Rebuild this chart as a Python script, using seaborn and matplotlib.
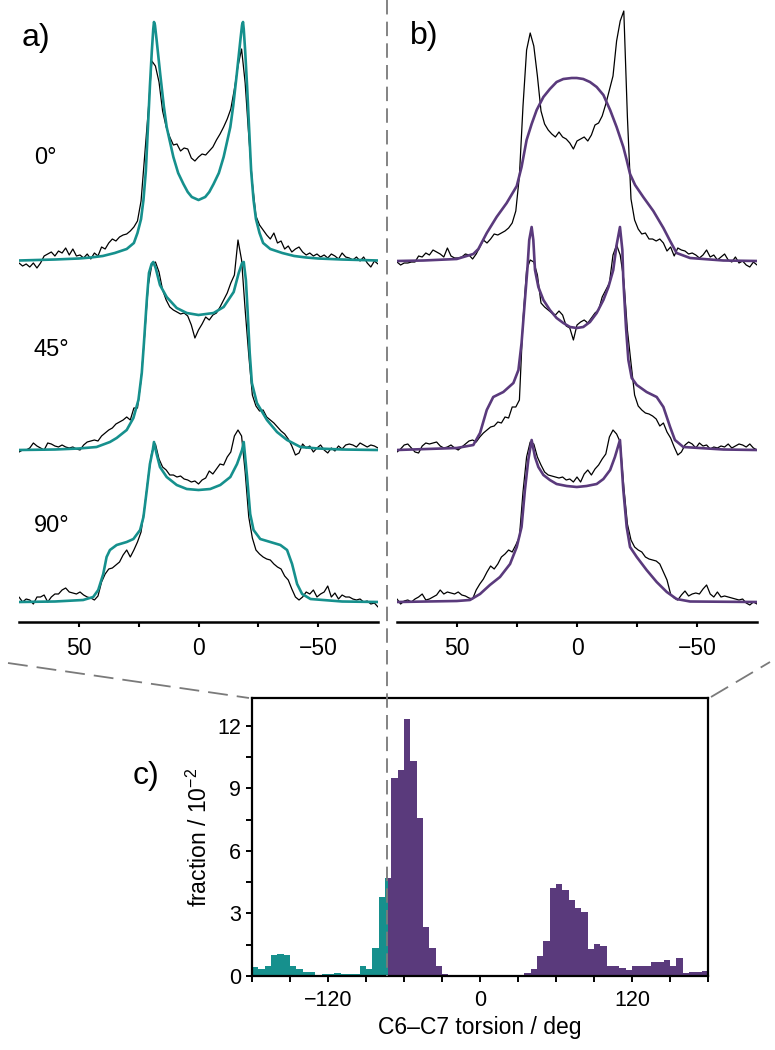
import numpy as np
import matplotlib
matplotlib.use("Agg")
import matplotlib.pyplot as plt
import seaborn as sns
from matplotlib.lines import Line2D
from matplotlib.ticker import MultipleLocator, FixedLocator

# ---------------- data: 2H NMR spectra (shift in kHz) ----------------
shift = [75.0, 73.5, 72.0, 70.5, 69.0, 67.5, 66.0, 64.5, 63.0, 61.5,
         60.0, 58.5, 57.0, 55.5, 54.0, 52.5, 51.0, 49.5, 48.0, 46.5,
         45.0, 43.5, 42.0, 40.5, 39.0, 37.5, 36.0, 34.5, 33.0, 31.5,
         30.0, 28.5, 27.0, 25.5, 24.0, 22.5, 21.0, 19.5, 18.0, 16.5,
         15.0, 13.5, 12.0, 10.5, 9.0, 7.5, 6.0, 4.5, 3.0, 1.5,
         0.0, -1.5, -3.0, -4.5, -6.0, -7.5, -9.0, -10.5, -12.0, -13.5,
         -15.0, -16.5, -18.0, -19.5, -21.0, -22.5, -24.0, -25.5, -27.0, -28.5,
         -30.0, -31.5, -33.0, -34.5, -36.0, -37.5, -39.0, -40.5, -42.0, -43.5,
         -45.0, -46.5, -48.0, -49.5, -51.0, -52.5, -54.0, -55.5, -57.0, -58.5,
         -60.0, -61.5, -63.0, -64.5, -66.0, -67.5, -69.0, -70.5, -72.0, -73.5,
         -75.0]

exp_a0 = [-2, -5, -3, -6, -2, -7, -2, 5, 7, 9,
          5, 10, 8, 13, 6, 12, 5, 6, 3, 7,
          2, 8, 5, 14, 12, 18, 22, 20, 24, 26,
          27, 30, 34, 40, 60, 105, 150, 200, 195, 179,
          150, 134, 124, 116, 117, 110, 113, 112, 103, 100,
          104, 107, 106, 110, 114, 121, 127, 134, 142, 152,
          172, 195, 212, 178, 125, 78, 45, 36, 31, 26,
          22, 28, 18, 20, 12, 15, 9, 12, 14, 9,
          6, 8, 5, 7, 4, 6, 3, 7, 5, 2,
          8, 4, 3, 1, 4, 0, 4, -2, -6, 0,
          -3]
exp_a45 = [-2, 0, 0, 2, 7, 4, 2, 0, 7, 6,
           4, 3, 5, 3, 2, 3, 1, 0, 5, 8,
           9, 10, 9, 14, 17, 20, 22, 26, 28, 30,
           33, 30, 42, 42, 70, 115, 165, 185, 188, 178,
           160, 150, 143, 140, 138, 136, 137, 134, 125, 112,
           120, 126, 133, 130, 135, 137, 143, 150, 157, 167,
           175, 210, 190, 140, 95, 55, 44, 39, 40, 33,
           30, 27, 23, 19, 16, 11, 4, -5, -3, 6,
           2, 4, -2, 2, 5, 0, -3, 2, -1, 4,
           1, 5, 6, 5, 3, 7, 5, 3, 5, 4,
           2]
exp_a90 = [5, 0, 3, 2, -2, 5, 5, 7, 0, 5,
           8, 8, 12, 14, 10, 9, 8, 10, 7, 5,
           4, 2, 6, 20, 28, 33, 34, 37, 40, 47,
           52, 45, 52, 60, 70, 95, 125, 150, 158, 143,
           135, 132, 127, 127, 125, 126, 123, 122, 120, 121,
           118, 122, 124, 131, 128, 133, 138, 137, 145, 150,
           166, 172, 166, 130, 85, 64, 52, 48, 45, 43,
           42, 38, 35, 33, 26, 22, 13, 5, 2, 5,
           10, 8, 12, 5, 8, 10, 16, 5, 9, 3,
           7, 5, 5, 3, 2, 3, 0, 1, -2, -1,
           -5]
exp_b0 = [-1, -4, -2, -2, -1, -1, 5, 4, 8, 6,
          11, 9, 7, 4, 13, 5, 3, 3, 4, 7,
          6, 2, 7, 14, 21, 18, 22, 27, 26, 28,
          30, 33, 38, 50, 85, 155, 211, 228, 215, 185,
          150, 137, 131, 127, 124, 129, 124, 122, 118, 112,
          120, 122, 124, 120, 126, 136, 138, 145, 157, 171,
          185, 220, 240, 250, 144, 62, 41, 32, 27, 28,
          22, 22, 20, 22, 18, 10, 14, 5, 13, 11,
          10, 7, 8, 6, 3, 6, 11, 4, 6, 1,
          4, 7, 1, -1, 4, -2, 0, -4, -6, -1,
          -4]
exp_b45 = [-2, 1, 5, 6, 2, -2, -3, 4, 7, 6,
           7, 8, 4, 2, 3, 5, 2, 0, 3, 6,
           9, 10, 8, 13, 17, 20, 23, 24, 28, 27,
           33, 32, 43, 43, 50, 130, 180, 190, 188, 175,
           147, 143, 140, 137, 135, 139, 135, 124, 122, 110,
           125, 128, 130, 127, 132, 137, 140, 153, 160, 167,
           195, 205, 195, 170, 120, 87, 55, 44, 40, 37,
           36, 34, 31, 24, 27, 18, 12, 3, -5, -2,
           5, 8, 6, 2, 7, 4, 5, 1, 3, 2,
           4, 3, 6, 2, 4, 6, 5, 3, 6, 2,
           0]
exp_b90 = [3, -2, 1, 2, 0, 3, 5, 8, 2, 3,
           5, 7, 12, 8, 10, 9, 8, 10, 7, 6,
           4, 3, 12, 18, 23, 30, 36, 33, 38, 45,
           48, 52, 50, 57, 65, 110, 145, 160, 158, 145,
           137, 130, 127, 126, 125, 124, 125, 122, 123, 120,
           125, 120, 128, 132, 127, 133, 137, 143, 148, 165,
           172, 168, 160, 115, 78, 62, 55, 52, 50, 45,
           43, 42, 41, 38, 30, 22, 8, 4, 2, 7,
           11, 6, 8, 9, 8, 13, 17, 8, 5, 10,
           5, 6, 5, 4, 3, 2, 3, -1, -3, 0,
           -2]

# simulated fits
fit_a0_x = [75, 60, 50, 45, 40, 35, 30, 27, 25.5, 24, 23, 22, 21.2, 20.3, 19.5, 18.9, 18.6, 18.2, 17.5, 16,
            14.5, 13.3, 12, 10.5, 8.5, 6.3, 4.5, 2.8, 0, -2.8, -4.5, -6.3, -8.5, -10.5, -12, -13.3, -14.5,
            -16, -17.5, -18.2, -18.6, -18.9, -19.5, -20.3, -21.2, -22, -23, -24, -25.5, -27, -30, -35, -40,
            -45, -50, -60, -75]
fit_a0_y = [0.5, 1.5, 2.5, 3.5, 5, 8, 12, 18, 28, 42, 61, 90, 130, 175, 210, 232, 239, 236, 221, 187,
            155, 134, 120, 104, 88, 77, 69, 64, 61, 64, 69, 77, 88, 104, 120, 134, 155,
            187, 221, 236, 239, 232, 210, 175, 130, 90, 61, 42, 28, 18, 12, 8, 5,
            3.5, 2.5, 1.5, 0.5]
fit_a45_x = [75, 60, 50, 42.6, 37, 34.2, 30, 27.2, 25.1, 23.7, 22.8, 21.6, 20.7, 19.6, 18.9, 17.9, 16.1,
             13.3, 9.1, 4.9, 0, -6.3, -10.5, -14.7, -16.8, -18.2, -18.9, -19.8, -20.5, -21.4, -22.3, -24.4,
             -28.6, -32.8, -37, -42.6, -50, -60, -75]
fit_a45_y = [0, 0.5, 1.5, 3, 8, 12, 20, 32, 50, 77, 107, 150, 177, 186, 188, 182, 165,
             153, 142, 137, 135, 137, 143, 158, 177, 187, 188, 170, 140, 97, 67, 47,
             30, 18, 10, 3, 1.5, 0.5, 0]
fit_a90_x = [75, 60, 48.2, 44, 41.9, 39.8, 38.4, 37, 34.2, 30, 27.2, 24.4, 23, 21.6, 20.3, 19.1, 18.6,
             17.5, 16.1, 13.3, 9.1, 4.9, 0, -4.9, -9.1, -13.3, -16.1, -18.2, -18.9, -20.3, -21.6, -23,
             -25.8, -30, -34.2, -37, -39.1, -41.2, -43.3, -46.8, -60, -75]
fit_a90_y = [0, 0.5, 2, 5, 12, 28, 45, 52, 57, 60, 63, 72, 85, 112, 138, 152, 160,
             148, 135, 125, 117, 113, 112, 113, 117, 125, 138, 152, 160, 125, 88, 72,
             63, 60, 57, 52, 38, 18, 8, 3, 0.5, 0]
fit_b0_x = [75, 64, 50.1, 43.2, 41.1, 37.6, 33.5, 29.3, 25.1, 23.1, 21, 18.9, 16.8, 14, 11.3, 8.5, 5.7,
            2.2, 0.1, -2.6, -5.4, -8.2, -11, -13.8, -16.5, -19.3, -20.7, -22.1, -24.2, -27.6, -31.8,
            -36, -38.8, -41.5, -47.1, -61, -75]
fit_b0_y = [0, 0.5, 2, 7, 12, 28, 44, 58, 75, 94, 121, 137, 151, 164, 172, 179, 182,
            183, 183, 182, 179, 174, 166, 151, 134, 114, 101, 87, 76, 64, 50,
            33, 20, 8, 3, 0.5, 0]
fit_b45_x = [75, 50.1, 43.2, 40.4, 37.6, 34.9, 30.7, 26.5, 24.4, 23.1, 21.7, 20.7, 19.9, 18.9, 18.2,
             17.5, 16.1, 14, 11.3, 8.5, 5.7, 2.9, 0.1, -2.6, -5.4, -8.2, -11, -13.1, -15.1, -16.5,
             -17.9, -18.9, -19.3, -20.4, -21.4, -22.8, -24.9, -29, -33.2, -36, -38.8, -40.8, -44.3,
             -61, -75]
fit_b45_y = [0, 2, 5, 17, 40, 53, 58, 67, 80, 107, 150, 180, 210, 223, 210,
             180, 163, 150, 140, 132, 127, 123, 122, 123, 128, 137, 150, 163, 180, 205,
             223, 200, 170, 123, 90, 72, 65, 58, 53, 43, 23, 10, 3,
             0.5, 0]
fit_b90_x = [75, 50.1, 44.6, 40.4, 36.3, 32.1, 27.9, 25.1, 23.1, 21.7, 20.3, 18.9, 17.5, 16.1, 14,
             11.3, 8.5, 4.3, 0.1, -4, -8.2, -11, -13.8, -15.8, -17.9, -19.3, -20.7, -22.1, -24.9,
             -29, -33.2, -37.4, -41.5, -47.1, -75]
fit_b90_y = [0, 1, 2, 8, 17, 25, 38, 55, 75, 112, 142, 162, 145, 135, 127,
             122, 118, 116, 115, 116, 118, 123, 132, 145, 162, 112, 75, 55, 45,
             32, 20, 10, 3, 0.5, 0]

angle_labels = ["0°", "45°", "90°"]

# ---------------- data: torsion histogram (fraction / 1e-2, 5° bins) ----------------
bin_left = [-180, -175, -170, -165, -160, -155, -150, -145, -140, -135, -130, -125,
            -120, -115, -110, -105, -100, -95, -90, -85, -80, -75, -70, -65,
            -60, -55, -50, -45, -40, -35, -30, -25, -20, -15, -10, -5,
            0, 5, 10, 15, 20, 25, 30, 35, 40, 45, 50, 55,
            60, 65, 70, 75, 80, 85, 90, 95, 100, 105, 110, 115,
            120, 125, 130, 135, 140, 145, 150, 155, 160, 165, 170, 175]
fraction = [0.43, 0.35, 0.50, 1.00, 1.07, 1.00, 0.46, 0.35, 0.19, 0.19, 0.03, 0.10,
            0.10, 0.14, 0.10, 0.08, 0.10, 0.50, 0.35, 1.34, 3.80, 4.70, 9.50, 9.90,
            12.30, 10.30, 7.60, 2.35, 1.36, 0.46, 0.08, 0, 0, 0, 0, 0,
            0, 0, 0, 0, 0, 0, 0, 0.14, 0.35, 0.96, 1.68, 4.24,
            4.40, 4.10, 3.66, 3.28, 3.07, 1.31, 1.52, 1.42, 0.46, 0.46, 0.40, 0.30,
            0.50, 0.46, 0.50, 0.67, 0.67, 0.78, 0.50, 0.86, 0.16, 0.19, 0.19, 0.24]
bin_width = 5
split_angle = -72.4   # torsion separating the two populations

TEAL = "#16908d"
PURPLE = "#5a3a7c"

# ---------------- figure ----------------
sns.set_theme(style="white")
plt.rcParams["font.family"] = ["Liberation Sans", "DejaVu Sans"]
plt.rcParams["mathtext.fontset"] = "custom"
plt.rcParams["mathtext.rm"] = "Liberation Sans"
plt.rcParams["mathtext.it"] = "Liberation Sans:italic"
plt.rcParams["text.color"] = "black"
plt.rcParams["axes.labelcolor"] = "black"
plt.rcParams["xtick.color"] = "black"
plt.rcParams["ytick.color"] = "black"

W, H = 775, 1050
fig = plt.figure(figsize=(W / 100, H / 100), dpi=100)


def fxp(px):
    return px / W


def fyp(py):
    return 1 - py / H


axA = fig.add_axes([fxp(19), fyp(622), (378 - 19) / W, 622 / H])
axB = fig.add_axes([fxp(397), fyp(622), (757 - 397) / W, 622 / H])
axC = fig.add_axes([fxp(252), fyp(976), (708 - 252) / W, (976 - 698) / H])

offsets = [361, 172, 20]

panels = [
    (axA, [exp_a0, exp_a45, exp_a90],
     [(fit_a0_x, fit_a0_y), (fit_a45_x, fit_a45_y), (fit_a90_x, fit_a90_y)], TEAL),
    (axB, [exp_b0, exp_b45, exp_b90],
     [(fit_b0_x, fit_b0_y), (fit_b45_x, fit_b45_y), (fit_b90_x, fit_b90_y)], PURPLE),
]

for ax, exps, fits, col in panels:
    for exp, (fxv, fyv), off in zip(exps, fits, offsets):
        n = min(len(shift), len(exp))
        sns.lineplot(x=np.array(shift[:n]), y=np.array(exp[:n], float) + off, ax=ax,
                     color="black", linewidth=0.9, estimator=None, sort=False)
        m = min(len(fxv), len(fyv))
        sns.lineplot(x=np.array(fxv[:m]), y=np.array(fyv[:m], float) + off, ax=ax,
                     color=col, linewidth=1.9, estimator=None, sort=False)
    ax.set_xlim(75, -75)
    ax.set_ylim(0, 622)
    ax.set_xlabel("")
    ax.set_ylabel("")
    for s in ["left", "right", "top"]:
        ax.spines[s].set_visible(False)
    ax.spines["bottom"].set_linewidth(1.8)
    ax.spines["bottom"].set_color("black")
    ax.set_yticks([])
    ax.xaxis.set_major_locator(FixedLocator([50, 0, -50]))
    ax.xaxis.set_minor_locator(FixedLocator([25, -25]))
    ax.tick_params(axis="x", which="both", direction="out", length=3.5, width=1.5,
                   colors="black", labelsize=16.5, pad=7, bottom=True)
    ax.patch.set_alpha(0)

# ---------------- histogram ----------------
teal_edges = [b for b in bin_left if b + bin_width <= -70] + [split_angle]
teal_w = [f for b, f in zip(bin_left, fraction) if b + bin_width <= -70]
teal_c = [b + bin_width / 2 for b in bin_left if b + bin_width <= -70]
teal_c = teal_c[:-1] + [(-75 + split_angle) / 2]

purple_edges = [split_angle] + [b + bin_width for b in bin_left if b >= -75]
purple_w = [f for b, f in zip(bin_left, fraction) if b >= -75]
purple_c = [(split_angle - 70) / 2] + [b + bin_width / 2 for b in bin_left if b > -75]

sns.histplot(x=teal_c, weights=teal_w, bins=teal_edges, ax=axC, color=TEAL,
             element="bars", fill=True, alpha=1, linewidth=0, stat="count")
sns.histplot(x=purple_c, weights=purple_w, bins=purple_edges, ax=axC, color=PURPLE,
             element="bars", fill=True, alpha=1, linewidth=0, stat="count")

axC.set_xlim(-180, 180)
axC.set_ylim(0, 13.33)
axC.xaxis.set_major_locator(FixedLocator([-120, 0, 120]))
axC.xaxis.set_minor_locator(MultipleLocator(30))
axC.yaxis.set_major_locator(FixedLocator([0, 3, 6, 9, 12]))
axC.yaxis.set_minor_locator(MultipleLocator(1.5))
axC.tick_params(axis="both", which="both", direction="out", length=4, width=1.4,
                colors="black", labelsize=15.5, bottom=True, left=True)
axC.tick_params(axis="x", pad=6)
axC.tick_params(axis="y", pad=4)
for s in axC.spines.values():
    s.set_visible(True)
    s.set_linewidth(1.6)
    s.set_color("black")
axC.set_xlabel("C6–C7 torsion / deg", fontsize=16.5, labelpad=4, color="black")
axC.set_ylabel("fraction / 10$^{-2}$", fontsize=16.5, labelpad=4, color="black")

# ---------------- decorations ----------------
gray = "#7a7a7a"
fig.add_artist(Line2D([fxp(387), fxp(387)], [fyp(0), fyp(976)], transform=fig.transFigure,
                      color=gray, linewidth=1.3, dashes=(8, 4)))
fig.add_artist(Line2D([fxp(8), fxp(249)], [fyp(663), fyp(698)], transform=fig.transFigure,
                      color=gray, linewidth=1.3, dashes=(11, 5)))
fig.add_artist(Line2D([fxp(711), fxp(770)], [fyp(697), fyp(662)], transform=fig.transFigure,
                      color=gray, linewidth=1.3, dashes=(11, 5)))

fig.text(fxp(22), fyp(38), "a)", fontsize=23, ha="left", va="center", color="black")
fig.text(fxp(410), fyp(36), "b)", fontsize=23, ha="left", va="center", color="black")
fig.text(fxp(133), fyp(776), "c)", fontsize=23, ha="left", va="center", color="black")
for lab, ypix in zip(angle_labels, [158, 350, 526]):
    fig.text(fxp(34), fyp(ypix), lab, fontsize=17, ha="left", va="center", color="black")

fig.savefig("out.png", dpi=100)
